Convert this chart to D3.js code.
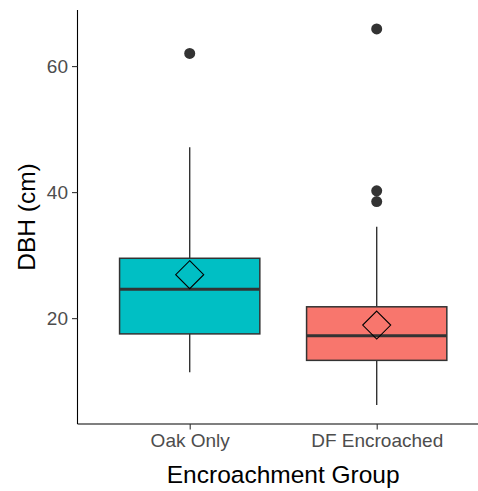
<!DOCTYPE html>
<html>
<head>
<meta charset="utf-8">
<script src="https://cdn.jsdelivr.net/npm/d3@7"></script>
<style>
  body { margin: 0; background: #fff; }
  text { font-family: "Liberation Sans", Arial, sans-serif; }
</style>
</head>
<body>
<div id="chart"></div>
<script>
// box stats
var groups = ["Oak Only", "DF Encroached"];
var lowWhisker = [11.4, 6.2];
var q1 = [17.5, 13.3];
var medians = [24.6, 17.2];
var q3 = [29.5, 21.8];
var highWhisker = [47.1, 34.5];
var means = [26.9, 18.9];
var outliers = [[62.0], [65.9, 40.2, 38.5]];
var fills = ["#00BFC4", "#F8766D"];
var yTicks = [20, 40, 60];

var W = 478, H = 491;
var panelLeft = 77.5, panelTop = 10, panelBottom = 424;

var svg = d3.select("#chart").append("svg")
    .attr("width", W)
    .attr("height", H);

var y = d3.scaleLinear()
    .domain([3.2, 68.9])
    .range([panelBottom, panelTop]);

// discrete positions 1 and 2, ggplot-ish expansion
var xPos = d3.scaleLinear()
    .domain([0.4, 2.6])
    .range([panelLeft, panelLeft + 2.2 * 187]);
var x = function(g) { return xPos(groups.indexOf(g) + 1); };
var boxW = xPos(1.75) - xPos(1);

var data = groups.map(function(g, i) {
  return {g: g, lo: lowWhisker[i], q1: q1[i], med: medians[i], q3: q3[i],
          hi: highWhisker[i], mean: means[i], out: outliers[i], fill: fills[i]};
});

var box = svg.selectAll("g.box")
  .data(data)
  .enter()
  .append("g")
    .attr("class", "box");

// whiskers
box.append("line")
    .attr("x1", function(d) { return x(d.g); })
    .attr("x2", function(d) { return x(d.g); })
    .attr("y1", function(d) { return y(d.q3); })
    .attr("y2", function(d) { return y(d.hi); })
    .attr("stroke", "#333333")
    .attr("stroke-width", 1.4);
box.append("line")
    .attr("x1", function(d) { return x(d.g); })
    .attr("x2", function(d) { return x(d.g); })
    .attr("y1", function(d) { return y(d.q1); })
    .attr("y2", function(d) { return y(d.lo); })
    .attr("stroke", "#333333")
    .attr("stroke-width", 1.4);

box.append("rect")
    .attr("x", function(d) { return x(d.g) - boxW / 2; })
    .attr("y", function(d) { return y(d.q3); })
    .attr("width", boxW)
    .attr("height", function(d) { return y(d.q1) - y(d.q3); })
    .attr("fill", function(d) { return d.fill; })
    .attr("stroke", "#333333")
    .attr("stroke-width", 1.5);

box.append("line")
    .attr("x1", function(d) { return x(d.g) - boxW / 2; })
    .attr("x2", function(d) { return x(d.g) + boxW / 2; })
    .attr("y1", function(d) { return y(d.med); })
    .attr("y2", function(d) { return y(d.med); })
    .attr("stroke", "#333333")
    .attr("stroke-width", 3);

// outliers
box.selectAll("circle")
  .data(function(d) { return d.out.map(function(v) { return {g: d.g, v: v}; }); })
  .enter()
  .append("circle")
    .attr("cx", function(d) { return x(d.g); })
    .attr("cy", function(d) { return y(d.v); })
    .attr("r", 5.5)
    .attr("fill", "#333333");

// mean diamonds
var s = 14;
box.append("path")
    .attr("d", function(d) {
      var cx = x(d.g), cy = y(d.mean);
      return "M" + cx + "," + (cy - s) + "L" + (cx + s) + "," + cy +
             "L" + cx + "," + (cy + s) + "L" + (cx - s) + "," + cy + "Z";
    })
    .attr("fill", "none")
    .attr("stroke", "#000")
    .attr("stroke-width", 1.1);

// axes
var yAxis = svg.append("g")
    .attr("transform", "translate(" + panelLeft + ",0)")
    .call(d3.axisLeft(y).tickValues(yTicks).tickSize(5.5).tickPadding(4));
var xAxis = svg.append("g")
    .attr("transform", "translate(0," + panelBottom + ")")
    .call(d3.axisBottom(xPos).tickValues([1, 2]).tickFormat(function(d) { return groups[d - 1]; })
      .tickSize(5.5).tickPadding(4));

[yAxis, xAxis].forEach(function(a) {
  a.select(".domain").attr("stroke", "#000").attr("stroke-width", 1.1)
    .attr("d", a === yAxis ? "M0," + panelTop + "V" + panelBottom : "M" + panelLeft + ",0H" + W);
  a.selectAll(".tick line").attr("stroke", "#333333").attr("stroke-width", 1.1);
  a.selectAll(".tick text")
    .attr("fill", "#4D4D4D")
    .style("font-size", "19px")
    .style("font-family", "'Liberation Sans', Arial, sans-serif");
});

svg.append("text")
    .attr("x", xPos(1.5))
    .attr("y", 483)
    .attr("text-anchor", "middle")
    .style("font-size", "24.5px")
    .attr("fill", "#000")
    .text("Encroachment Group");

svg.append("text")
    .attr("transform", "translate(35," + (panelTop + panelBottom) / 2 + ") rotate(-90)")
    .attr("text-anchor", "middle")
    .style("font-size", "24.5px")
    .attr("fill", "#000")
    .text("DBH (cm)");
</script>
</body>
</html>
